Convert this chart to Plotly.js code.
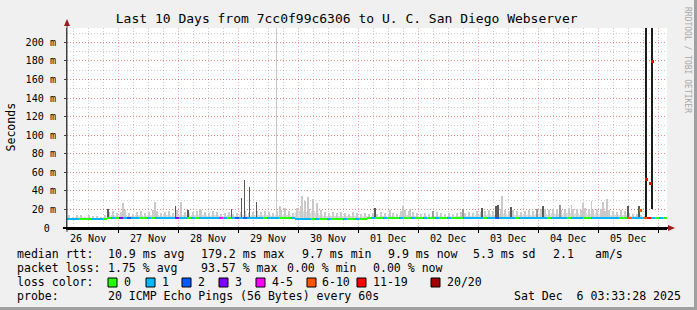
<!DOCTYPE html>
<html><head><meta charset="utf-8">
<script src="https://cdn.plot.ly/plotly-3.0.1.min.js"></script>
<style>html,body{margin:0;padding:0;background:#f0f0f0;}#chart{width:697px;height:310px;}</style>
</head><body><div id="chart"></div>
<script>
// ---- data ----
const titleText = 'Last 10 Days from 7cc0f99c6306 to U. C. San Diego Webserver';
const startTime = '2025-11-26 03:33:28';
const endTime = '2025-12-06 03:33:28';
const binMinutes = 96;

// median rtt per bin (ms)
const median = [
10,10,10,10,10,10,10,10,10,10,
11.2,11.2,11.2,11.2,11.2,11,11.2,11.2,11.2,11.2,
11.2,11.2,11.2,11.2,11.2,11.2,11.2,11.2,11.2,11.2,
11.2,11.2,11.2,11.2,11.2,11.2,11.2,11.2,11.2,11.2,
11.2,11.2,11.2,11.2,11.2,11.2,11.2,11.2,11.2,11.2,
11.2,11.2,11.2,11.2,11.2,11.2,11.2,10.2,10.2,10.2,
10.2,10.2,10.2,10.2,10.2,10.2,10.2,10.2,10.2,10.2,
10.2,10.2,10.2,10.2,10.2,10.6,10.6,10.6,10.6,10.6,
10.6,10.6,10.6,10.6,10.6,10.6,10.6,10.6,10.6,10.6,
10.6,10.6,10.6,10.6,10.6,10.6,10.6,10.6,10.6,10.6,
10.6,10.6,10.6,10.6,10.6,10.6,10.6,10.6,10.6,10.6,
10.6,10.6,10.6,10.6,10.6,10.6,10.6,10.6,10.6,10.6,
10.6,10.6,10.6,10.6,10.6,10.6,10.6,10.6,10.6,10.6,
10.6,10.6,10.6,10.6,10.6,10.6,10.6,10.6,10.6,10.6,
10.6,10.6,10.6,10.6,10.6,10.6,10.6,10.6,10.6,10.6
];
// lost pings (of 20) per bin
const loss = [
1,1,1,0,0,0,1,1,1,0,
0,1,0,3,1,2,1,1,0,0,
1,0,1,1,1,1,1,3,1,1,
0,1,0,1,1,1,1,1,5,1,
0,1,2,1,2,1,1,1,1,0,
1,1,1,0,0,0,1,1,1,1,
1,0,1,0,0,1,0,0,0,1,
0,0,1,0,0,0,1,0,0,1,
0,0,0,1,0,0,1,0,0,1,
0,0,1,0,0,1,0,0,0,1,
1,1,1,1,0,1,1,2,1,1,
1,1,0,1,1,1,1,1,1,1,
0,1,1,1,1,0,1,1,1,0,
0,1,1,1,1,1,1,1,0,0,
8,1,1,1,8,15,1,0,1,0
];
// dense lower smoke top per bin (ms)
const smokeCore = [
11,11,11.5,11.5,11,11.5,11,11,11,11.5,
13,13.5,13,14,13.5,13,12.5,13.5,14,13,
13.5,14,13.5,13,13.5,14,13,14,14.5,13.5,
13,13.5,14,14,13.5,13,14,13.5,13,13,
13.5,13,13,13.5,14,13,13.5,14,13.5,14,
13.5,13,14,14,13.5,14,13,17,18,17,
16,18,16,14,13,12.5,13,12.5,13,12.5,
12.5,13,12.5,12,12.5,12,12.5,12,13,12.5,
12,12.5,12,14,14.5,14,13,12.5,12,12.5,
12,12.5,13,12.5,12,12.5,12,12.5,13,12.5,
13,12.5,14,13.5,14,15,14,15,15.5,15,
14,14.5,14,13.5,14,14.5,14,15,16,15,
14.5,16,15,14.5,16,16.5,15,16,14.5,16,
15,14.5,16,15,14,14.5,14,13.5,14.5,14,
13,12.5,12.5,12,12,11.5,11.5,11.5,11,11.5
];
// upper (sparse) smoke top per bin (ms)
const smokeTop = [
14,11.5,13.5,14.5,12,14,13,12.5,11.5,14,
17,18,16,17,19,16,15,17,18,16,
17,19,18,16,17,18,16,19,18,17,
16,17,18,19,17,16,18,17,15,16,
17,15,16,17,18,16,17,18,17,18,
17,16,18,19,17,18,16,22,24,23,
21,24,22,19,17,16,17,16,17,16,
15,17,16,15,16,15,16,15,17,16,
15,16,15,18,19,18,17,16,15,16,
15,16,17,16,15,16,15,16,17,16,
17,16,18,17,18,19,18,19,20,19,
18,19,18,17,18,19,18,20,21,20,
19,21,20,19,21,22,20,21,19,22,
20,19,21,20,18,19,18,17,19,18,
16,15,15,14,13,12,12,12,11.5,12
];
// individual smoke spikes: hours after start, low/high (ms), shade 0 light .. 3 black
const spikeHour  = [22.4,35.2,45.6,53.2,83.8,85.2,87.2,94.0,95.2,96.4,98.4,100.0,129.2,134.4,137.2,174.0,201.9,206.4,209.9,214.4,216.0,
                    146.4,158.4,188.0,197.2,
                    16.4,43.5,48.4,65.9,69.9,70.9,72.9,75.9,123.2,166.0,171.6,172.4,177.6,190.4,224.4,228.8,
                    231.6,233.8,234.2];
const spikeLo    = [11,11,11,11,11,11,11,10.5,10.5,10.5,10.5,10.5,11,11,11,11,11,11,11,11,11,
                    11,11,11,11,
                    11,11,11,11,11,11,11,11,11,11,11,11,11,11,11,12,
                    10,20,20];
const spikeHi    = [27,27.5,27.7,20,400,23.5,22,34,29,33,31,27,19,24,20,35,25,27,28.6,28,31.4,
                    18.6,20,20,25,
                    20.7,24,19,20.7,32.4,51.4,43.9,27.7,21.8,22,24,25,23,24,24,24,
                    1000,1000,1000];
const spikeShade = [0,0,0,0,0,0,0,0,0,0,0,0,0,0,0,0,0,0,0,0,0,
                    1,1,1,1,
                    2,2,2,2,2,2,2,2,2,2,2,2,2,2,2,2,
                    3,3,3];
// isolated median readings during the 05 Dec outage
const eventHour = [229.2, 231.6, 233.5, 234.0];
const eventMedian = [19, 52, 47.6, 179];
const eventLoss = [8, 15, 15, 15];

const yTickVals = [0,20,40,60,80,100,120,140,160,180,200];
const yTickText = ['0\u00a0','20 m','40 m','60 m','80 m','100 m','120 m','140 m','160 m','180 m','200 m'];
const lossLabels = ['0','1','2','3','4-5','6-10','11-19','20/20'];
const lossColors = ['#26ff00','#00b8ff','#0059ff','#7e00ff','#ff00ff','#ff5500','#ff0000','#a10000'];
const rttStats  = ['10.9 ms avg','179.2 ms max','9.7 ms min','9.9 ms now','5.3 ms sd','2.1','am/s'];
const lossStats = ['1.75 % avg','93.57 % max','0.00 % min','0.00 % now'];
const probeText = '20 ICMP Echo Pings (56 Bytes) every 60s';
const dateText = 'Sat Dec\u00a0\u00a06 03:33:28 2025';
const shadeColors = ['#c9c9c9','#9a9a9a','#5a5a5a','#1c1c1c'];

// ---- build ----
const MONO = 'DejaVu Sans Mono';
const t0 = Date.UTC(2025,10,26,3,33,28);
const binMs = binMinutes*60000;
const pxMs = 24*60000; // one pixel of the 600px wide canvas
const binX = median.map((_,i)=>t0+(i+0.5)*binMs);
function lossCat(l){ if(l<=3) return l; if(l<=5) return 4; if(l<=10) return 5; if(l<=19) return 6; return 7; }

const traces = [];
traces.push({type:'bar', x:binX, base:median.map(m=>m-0.6), y:smokeCore.map((c,i)=>c-(median[i]-0.6)),
  width:binMs, marker:{color:'#dcdcdc', line:{width:0}}, hoverinfo:'skip'});
traces.push({type:'bar', x:binX, base:median, y:smokeTop.map((c,i)=>c-median[i]),
  width:binMs/2, marker:{color:'#cbcbcb', line:{width:0}}, hoverinfo:'skip'});
traces.push({type:'bar', x:spikeHour.map(h=>t0+h*3600000), base:spikeLo, y:spikeHi.map((h,i)=>h-spikeLo[i]),
  width:pxMs*1.2, marker:{color:spikeShade.map(s=>shadeColors[s]), line:{width:0}}, hoverinfo:'skip'});
traces.push({type:'bar', x:binX, base:median.map(m=>m-1.07), y:median.map(()=>2.15),
  width:binMs, marker:{color:loss.map(l=>lossColors[lossCat(l)]), line:{width:0}}, hoverinfo:'skip'});
traces.push({type:'bar', x:eventHour.map(h=>t0+h*3600000), base:eventMedian.map(m=>m-1.5), y:eventMedian.map(()=>3),
  width:pxMs*3, marker:{color:eventLoss.map(l=>lossColors[lossCat(l)]), line:{width:0}}, hoverinfo:'skip'});

const L=67, T=28, W=600, H=200;
const px = x=>(x-L)/W, py = y=>(T+H-y)/H;
function ann(text,x,y,extra){ return Object.assign({xref:'paper',yref:'paper',x:px(x),y:py(y),text:text,showarrow:false,
  xanchor:'left',yanchor:'middle',borderpad:0,font:{family:MONO,size:11.55,color:'#000'}},extra||{}); }

const row = [254, 268, 281.8, 295.8];
const annotations = [];
annotations.push(ann('median rtt:',16,row[0]));
[107,200,301,387,472,552,594].forEach((x,i)=>annotations.push(ann(rttStats[i],x,row[0])));
annotations.push(ann('packet loss:',16,row[1]));
[107,200,286,372].forEach((x,i)=>annotations.push(ann(lossStats[i],x,row[1])));
annotations.push(ann('loss color:',16,row[2]));
const boxX = [108,146,182,219,256,307,357,431];
const labX = [123,161,197,234,271,321,372,446];
lossLabels.forEach((t,i)=>annotations.push(ann(t,labX[i],row[2])));
annotations.push(ann('probe:',16,row[3]));
annotations.push(ann(probeText,107,row[3]));
annotations.push(ann(dateText,513,row[3]));
annotations.push(ann('Seconds',10.5,127,{xanchor:'center',textangle:-90}));
annotations.push(ann('RRDTOOL / TOBI OETIKER',688,60,{xanchor:'center',textangle:90,font:{family:MONO,size:8,color:'#a8a8a8'}}));

const shapes = [];
boxX.forEach((x,i)=>shapes.push({type:'rect',xref:'paper',yref:'paper',x0:px(x),x1:px(x+9),y0:py(287),y1:py(278),
  fillcolor:lossColors[i],line:{color:'#000',width:1}}));
// frame
shapes.push({type:'rect',xref:'paper',yref:'paper',x0:px(694),x1:px(697),y0:py(0),y1:py(310),fillcolor:'#a0a0a0',line:{width:0}});
shapes.push({type:'rect',xref:'paper',yref:'paper',x0:px(0),x1:px(697),y0:py(310),y1:py(307),fillcolor:'#a0a0a0',line:{width:0}});
// axis extensions and arrows
shapes.push({type:'line',xref:'paper',yref:'paper',x0:px(67),x1:px(67),y0:py(232),y1:py(24),line:{color:'#404040',width:1}});
shapes.push({type:'line',xref:'paper',yref:'paper',x0:px(63),x1:px(669),y0:py(228),y1:py(228),line:{color:'#000',width:2}});
shapes.push({type:'path',xref:'paper',yref:'paper',
  path:`M ${px(64)} ${py(26)} L ${px(70)} ${py(26)} L ${px(67)} ${py(19)} Z`,fillcolor:'#9b1c1c',line:{width:0}});
shapes.push({type:'path',xref:'paper',yref:'paper',
  path:`M ${px(668)} ${py(225)} L ${px(668)} ${py(231)} L ${px(675)} ${py(228)} Z`,fillcolor:'#9b1c1c',line:{width:0}});

const layout = {
  width:697, height:310, margin:{l:67,r:30,t:28,b:82,pad:0},
  paper_bgcolor:'#f0f0f0', plot_bgcolor:'#ffffff', showlegend:false, barmode:'overlay', bargap:0,
  title:{text:titleText, font:{family:MONO,size:13,color:'#000'}, xref:'container', yref:'container',
    x:346.7/697, xanchor:'center', y:1-18.5/310, yanchor:'middle'},
  xaxis:{type:'date', range:[startTime,endTime], tick0:'2025-11-26', dtick:86400000, tickformat:'%d %b',
    ticklabelmode:'period', showgrid:true, gridcolor:'rgba(255,0,0,0.32)', griddash:'1px,2px', gridwidth:1,
    ticks:'outside', ticklen:3, tickcolor:'#000', tickwidth:1, ticklabelstandoff:-3,
    minor:{dtick:21600000, showgrid:true, gridcolor:'rgba(128,128,128,0.38)', griddash:'1px,2px', gridwidth:1, ticks:''},
    showline:true, linecolor:'#000', linewidth:2, zeroline:false, fixedrange:true,
    tickfont:{family:MONO,size:10.1,color:'#000'}},
  yaxis:{range:[0,215.4], tickmode:'array', tickvals:yTickVals, ticktext:yTickText,
    showgrid:true, gridcolor:'rgba(255,0,0,0.32)', griddash:'1px,2px', gridwidth:1,
    minor:{tickmode:'linear', tick0:0, dtick:10, showgrid:true, gridcolor:'rgba(128,128,128,0.38)', griddash:'1px,2px', gridwidth:1, ticks:''},
    ticks:'outside', ticklen:2, tickcolor:'#404040', showline:true, linecolor:'#404040', linewidth:1,
    zeroline:false, fixedrange:true, ticklabelstandoff:6,
    tickfont:{family:MONO,size:10.1,color:'#000'}},
  annotations:annotations, shapes:shapes
};
Plotly.newPlot('chart', traces, layout, {staticPlot:true, displayModeBar:false});
</script></body></html>
